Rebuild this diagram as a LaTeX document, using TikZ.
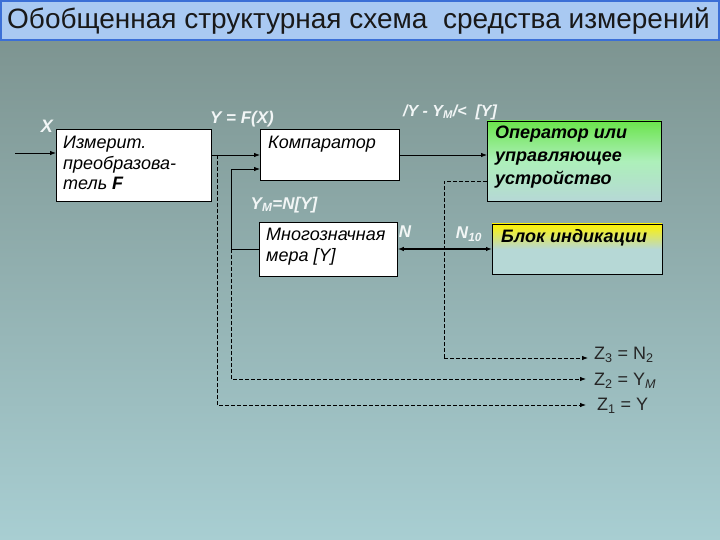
\documentclass[tikz,border=0pt]{standalone}
\usepackage{fontspec}
\setmainfont{Liberation Sans}
\usetikzlibrary{arrows.meta}
\definecolor{bgtop}{HTML}{7A908C}
\definecolor{bgbot}{HTML}{A8CED2}
\definecolor{titlebg}{HTML}{A9C9F2}
\definecolor{titlebd}{HTML}{3B6FD6}
\definecolor{boxteal}{HTML}{B6D8D6}
\definecolor{lbl}{HTML}{F2F6F6}
\tikzset{
  blk/.style={draw=black, line width=0.8pt, fill=white, anchor=north west, inner sep=0pt},
  txt/.style={anchor=north west, align=left, inner sep=0pt, font=\fontsize{18}{20.5}\selectfont\itshape},
  wl/.style={text=lbl, font=\fontsize{17}{19}\selectfont\bfseries\itshape, inner sep=0pt},
  zl/.style={text=black!85, font=\fontsize{18}{20}\selectfont, anchor=west, inner sep=0pt},
  conn/.style={draw=black, line width=0.8pt, -{Latex[length=6pt,width=4.5pt]}},
  dconn/.style={draw=black, line width=0.8pt, dash pattern=on 4pt off 2pt, -{Latex[length=6pt,width=4.5pt]}},
  dln/.style={draw=black, line width=0.8pt, dash pattern=on 4pt off 2pt},
}
\begin{document}
\begin{tikzpicture}[x=1pt,y=-1pt]
\useasboundingbox (0,0) rectangle (720,540);
% background
\shade[top color=bgtop, bottom color=bgbot] (0,0) rectangle (720,540);
% title bar
\draw[fill=titlebg, draw=titlebd, line width=1.2pt] (1,1) rectangle (719,40);
\node[anchor=west, inner sep=0pt, font=\fontsize{28}{30}\selectfont, text=black!90] (title) at (7,21) {Обобщенная структурная схема\ \ средства измерений};
% blocks
\node[blk, minimum width=155pt, minimum height=72pt] (conv) at (56,129) {};
\node[txt] (convt) at (63,136) {Измерит.\\преобразова-\\тель \textbf{F}};
\node[blk, minimum width=139pt, minimum height=51pt] (comp) at (260,129) {};
\node[txt] (compt) at (268,136) {Компаратор};
\shade[top color=green!80!yellow!85!black!70!white, bottom color=boxteal, middle color=boxteal!65!green!60!white] (487,121) rectangle (661,201);
\node[draw=black, line width=0.8pt, anchor=north west, inner sep=0pt, minimum width=174pt, minimum height=80pt] (oper) at (487,121) {};
\node[txt, font=\fontsize{18}{23}\selectfont\bfseries\itshape] (opert) at (495,126) {Оператор или\\управляющее\\устройство};
\shade[top color=yellow!90!orange, bottom color=boxteal, middle color=boxteal] (492,224) rectangle (662,274);
\node[draw=black, line width=0.8pt, anchor=north west, inner sep=0pt, minimum width=170pt, minimum height=50pt] (ind) at (492,224) {};
\node[txt, font=\fontsize{18}{20}\selectfont\bfseries\itshape] (indt) at (501,229) {Блок индикации};
\node[blk, minimum width=138pt, minimum height=54pt] (meas) at (259,222) {};
\node[txt] (meast) at (266,228) {Многозначная\\мера [\textit{Y}]};
% coordinates
\coordinate (in) at (15,153);
\coordinate (y1) at (217,155);
\coordinate (y1b) at (217,405);
\coordinate (m1) at (231,249);
\coordinate (m2) at (231,169);
\coordinate (m3) at (231,379);
\coordinate (o1) at (444,181);
\coordinate (o2) at (444,358);
\coordinate (z3) at (588,358);
\coordinate (z2) at (586,379);
\coordinate (z1) at (586,405);
% connectors
\draw[conn] (in) -- (conv.west |- in);
\draw[conn] (conv.east |- y1) -- (comp.west |- y1);
\draw[conn] (comp.east |- y1) -- (oper.west |- y1);
\draw[dconn] (y1) -- (y1b) -- (z1);
\draw[conn] (meas.west |- m1) -- (m1) -- (m2) -- (comp.west |- m2);
\draw[dconn] (m1) -- (m3) -- (z2);
\draw[dln] (oper.west |- o1) -- (o1) -- (o2);
\draw[dconn] (o2) -- (z3);
\draw[draw=black, line width=1.3pt, {Latex[length=6pt,width=4.5pt]}-{Latex[length=6pt,width=4.5pt]}] (meas.east |- m1) -- (ind.west |- m1);
% labels
\node[wl, font=\fontsize{18}{20}\selectfont\bfseries\itshape] (lx) at (47,126) {X};
\node[wl] (ly) at (242,119) {Y = F(X)};
\node[wl, font=\fontsize{16}{18}\selectfont\bfseries\itshape] (lcmp) at (450,112) {/Y - Y\textsubscript{M}/<\ \ [Y]};
\node[wl] (lym) at (284,205) {Y\textsubscript{M}=N[Y]};
\node[wl] (ln) at (405,232) {N};
\node[wl] (ln10) at (469,234) {N\textsubscript{10}};
\node[zl] (lz3) at (594,355) {Z\textsubscript{3} = N\textsubscript{2}};
\node[zl] (lz2) at (594,381) {Z\textsubscript{2} = Y\textsubscript{\textit{M}}};
\node[zl] (lz1) at (597,406) {Z\textsubscript{1} = Y};
\end{tikzpicture}
\end{document}
